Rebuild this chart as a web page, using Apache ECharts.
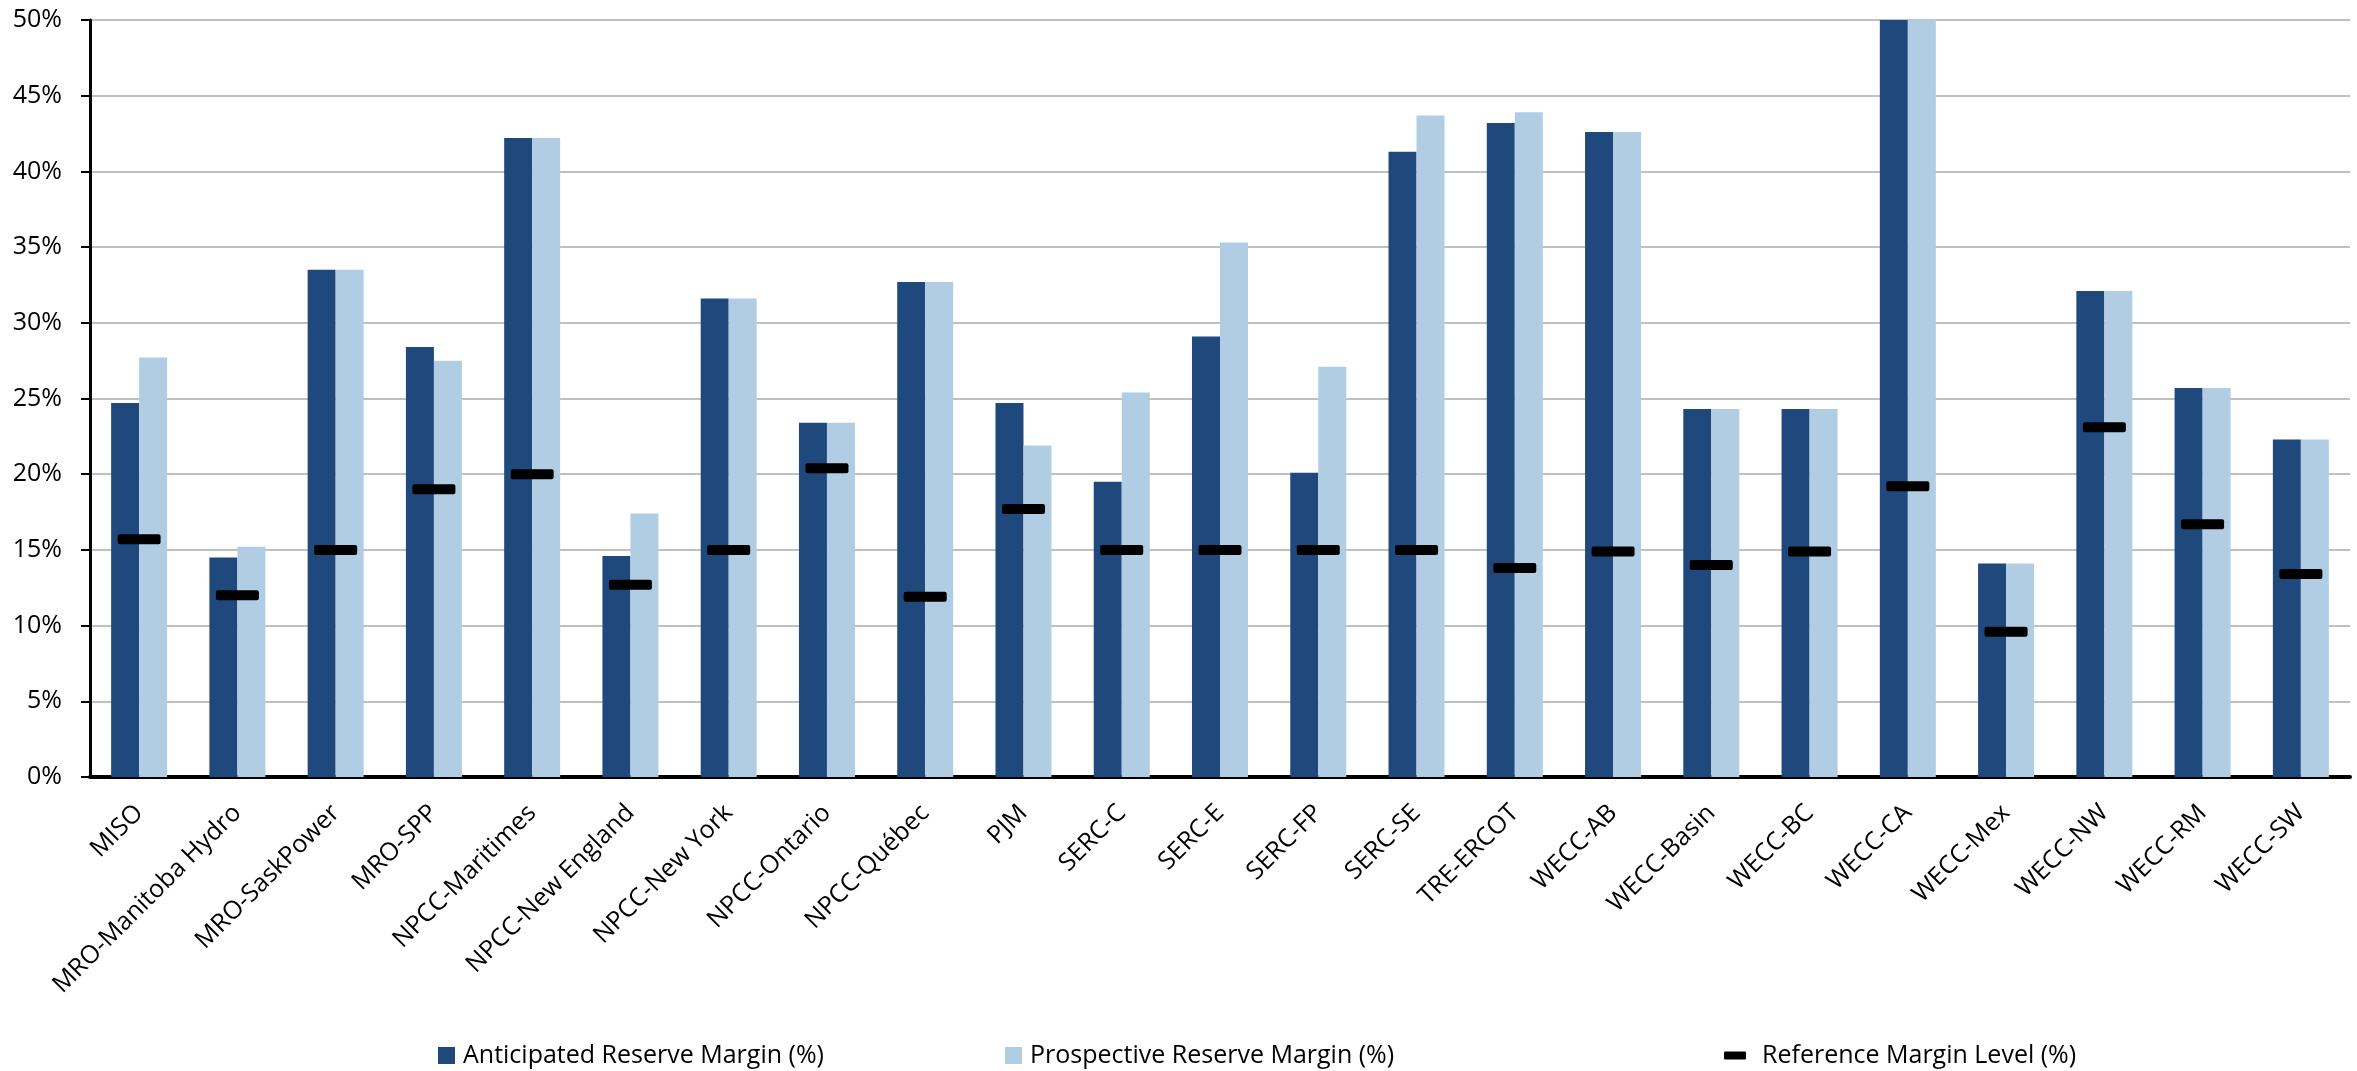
<!DOCTYPE html>
<html>
<head>
<meta charset="utf-8">
<script src="https://cdn.jsdelivr.net/npm/echarts@6/dist/echarts.min.js"></script>
<style>
  html, body { margin: 0; padding: 0; background: #fff; }
  #chart { width: 2357px; height: 1071px; }
</style>
</head>
<body>
<div id="chart"></div>
<script>
// Assessment areas
const regions = ['MISO', 'MRO-Manitoba Hydro', 'MRO-SaskPower', 'MRO-SPP', 'NPCC-Maritimes',
  'NPCC-New England', 'NPCC-New York', 'NPCC-Ontario', 'NPCC-Québec', 'PJM', 'SERC-C',
  'SERC-E', 'SERC-FP', 'SERC-SE', 'TRE-ERCOT', 'WECC-AB', 'WECC-Basin', 'WECC-BC',
  'WECC-CA', 'WECC-Mex', 'WECC-NW', 'WECC-RM', 'WECC-SW'];

// Reserve margins (%)
const anticipatedMargin = [24.7, 14.5, 33.5, 28.4, 42.2, 14.6, 31.6, 23.4, 32.7, 24.7, 19.5,
  29.1, 20.1, 41.3, 43.2, 42.6, 24.3, 24.3, 50.0, 14.1, 32.1, 25.7, 22.3];
const prospectiveMargin = [27.7, 15.2, 33.5, 27.5, 42.2, 17.4, 31.6, 23.4, 32.7, 21.9, 25.4,
  35.3, 27.1, 43.7, 43.9, 42.6, 24.3, 24.3, 50.0, 14.1, 32.1, 25.7, 22.3];
const referenceLevel = [15.7, 12.0, 15.0, 19.0, 20.0, 12.7, 15.0, 20.4, 11.9, 17.7, 15.0,
  15.0, 15.0, 15.0, 13.8, 14.9, 14.0, 14.9, 19.2, 9.6, 23.1, 16.7, 13.4];

const seriesNames = ['Anticipated Reserve Margin (%)', 'Prospective Reserve Margin (%)', 'Reference Margin Level (%)'];

const FONT = "'Open Sans', 'Liberation Sans', sans-serif";
const DARK = '#1F497D';
const LIGHT = '#B0CDE3';

// Small dash with slightly rounded corners for the reference level
const DASH = 'path://M2,0 H41 A2,2 0 0 1 43,2 V8 A2,2 0 0 1 41,10 H2 A2,2 0 0 1 0,8 V2 A2,2 0 0 1 2,0 Z';

const chart = echarts.init(document.getElementById('chart'), null, { renderer: 'canvas' });

const legendText = { fontFamily: FONT, fontSize: 25, color: '#000', padding: [0, 0, 0, 3] };

chart.setOption({
  animation: false,
  backgroundColor: '#fff',
  grid: { left: 90, right: 7, top: 20, bottom: 294, containLabel: false },
  legend: [
    { data: [seriesNames[0]], left: 438, top: 1043, itemWidth: 17, itemHeight: 17, padding: 0,
      icon: 'rect', textStyle: legendText },
    { data: [seriesNames[1]], left: 1005, top: 1043, itemWidth: 17, itemHeight: 17, padding: 0,
      icon: 'rect', textStyle: legendText },
    { data: [seriesNames[2]], left: 1724, top: 1043, itemWidth: 22, itemHeight: 8, padding: 0,
      icon: 'path://M1,0 H21 A1,1 0 0 1 22,1 V7 A1,1 0 0 1 21,8 H1 A1,1 0 0 1 0,7 V1 A1,1 0 0 1 1,0 Z',
      itemStyle: { opacity: 1, color: '#000' },
      textStyle: Object.assign({}, legendText, { padding: [0, 0, 0, 11] }) }
  ],
  xAxis: {
    type: 'category',
    data: regions,
    boundaryGap: true,
    axisLine: { show: true, lineStyle: { color: '#000', width: 4 } },
    axisTick: { show: false },
    axisLabel: {
      rotate: 45, margin: 32, interval: 0,
      fontFamily: FONT, fontSize: 25, color: '#000'
    },
    splitLine: { show: false }
  },
  yAxis: {
    type: 'value',
    min: 0, max: 50, interval: 5,
    axisLine: { show: true, lineStyle: { color: '#000', width: 3 } },
    axisTick: { show: true, length: 9, lineStyle: { color: '#000', width: 2 } },
    axisLabel: {
      formatter: '{value}%', margin: 28,
      fontFamily: FONT, fontSize: 25, color: '#000'
    },
    splitLine: { show: true, lineStyle: { color: '#C0C0C0', width: 2 } }
  },
  series: [
    {
      name: seriesNames[0], type: 'bar', data: anticipatedMargin,
      barWidth: 28, barGap: '0%',
      itemStyle: { color: DARK }
    },
    {
      name: seriesNames[1], type: 'bar', data: prospectiveMargin,
      barWidth: 28, barGap: '0%',
      itemStyle: { color: LIGHT }
    },
    {
      name: seriesNames[2], type: 'scatter', data: referenceLevel,
      symbol: DASH, symbolSize: [43, 10], symbolKeepAspect: false, z: 5,
      itemStyle: { color: '#000', opacity: 1 }
    }
  ]
});
</script>
</body>
</html>
